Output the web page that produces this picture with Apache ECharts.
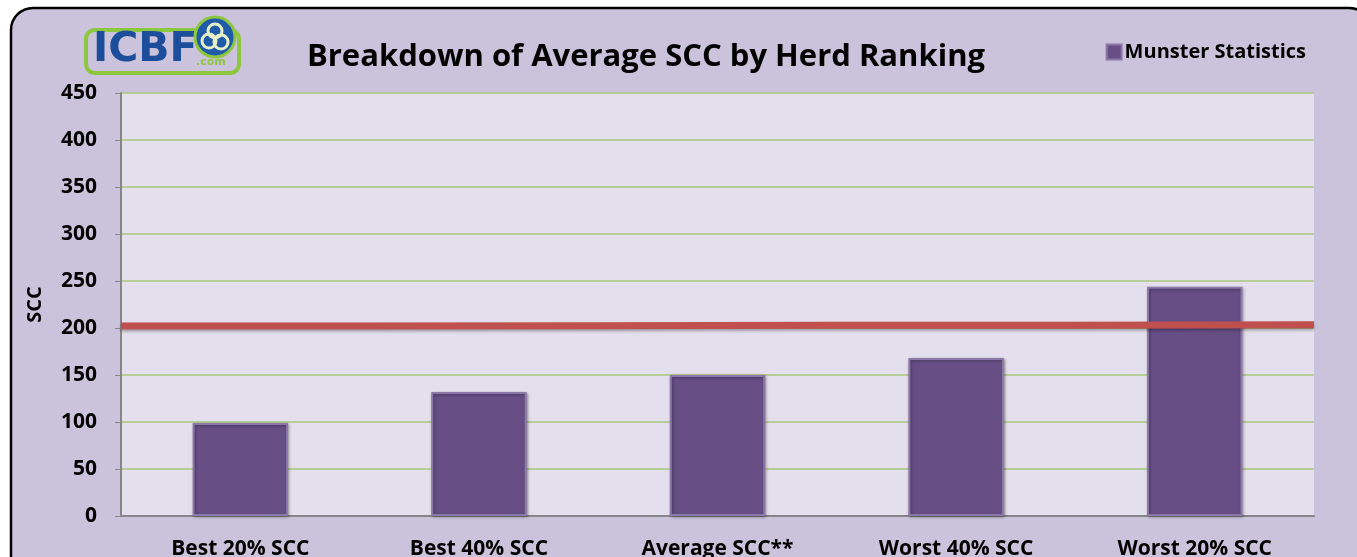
<!DOCTYPE html>
<html><head><meta charset="utf-8">
<script src="https://cdn.jsdelivr.net/npm/echarts@6/dist/echarts.min.js"></script>
<style>html,body{margin:0;padding:0;background:#fff;}#c{width:1357px;height:557px;}</style>
</head><body><div id="c"></div>
<script>
const categories = ['Best 20% SCC','Best 40% SCC','Average SCC**','Worst 40% SCC','Worst 20% SCC'];
const munsterValues = [99, 132, 150, 168, 244];
const thresholdValues = [202, 202.5, 203, 203, 203.5];
const yTicks = [0, 50, 100, 150, 200, 250, 300, 350, 400, 450];

const chart = echarts.init(document.getElementById('c'), null, {renderer: 'canvas'});
const lineData = [];
thresholdValues.forEach((v, i) => { lineData.push([i, v]); lineData.push([i + 1, v]); });
const font = '"Open Sans", "DejaVu Sans", sans-serif';
chart.setOption({
  backgroundColor: '#ffffff',
  animation: false,
  graphic: [
    {type: 'rect', z: -10, shape: {x: 11, y: 8, width: 1360, height: 600, r: 22},
     style: {fill: '#CBC3DB', stroke: '#000', lineWidth: 2.5}},
    {type: 'rect', shape: {x: 86, y: 30, width: 153, height: 43, r: 9},
     style: {fill: 'none', stroke: '#8DC63F', lineWidth: 4}},
    {type: 'text', left: 93, top: 30, style: {text: 'ICBF', font: 'bold 41px "DejaVu Sans", sans-serif', fill: '#1D4E9C'}},
    {type: 'text', left: 196, top: 57, style: {text: '.com', font: 'bold 11px "DejaVu Sans", sans-serif', fill: '#8DC63F'}},
    {type: 'circle', shape: {cx: 215, cy: 37, r: 20}, style: {fill: '#1F5BA8', stroke: '#8DC63F', lineWidth: 3}},
    {type: 'circle', shape: {cx: 209, cy: 41, r: 7}, style: {fill: 'none', stroke: '#E6F0C8', lineWidth: 3}},
    {type: 'circle', shape: {cx: 221, cy: 42, r: 7}, style: {fill: 'none', stroke: '#E6F0C8', lineWidth: 3}},
    {type: 'circle', shape: {cx: 215, cy: 31, r: 7}, style: {fill: 'none', stroke: '#E6F0C8', lineWidth: 3}}
  ],
  title: {
    text: 'Breakdown of Average SCC by Herd Ranking',
    left: 641, top: 37, textAlign: 'center',
    textStyle: {fontFamily: font, fontWeight: 'bold', fontSize: 31, color: '#000'}
  },
  legend: {
    right: 46, top: 37, itemWidth: 15, itemHeight: 15, itemGap: 4,
    data: [{name: 'Munster Statistics', icon: 'rect'}],
    textStyle: {fontFamily: font, fontWeight: 'bold', fontSize: 20, color: '#000', padding: [0, 0, 0, -2]}
  },
  grid: {left: 121, top: 93, right: 43, bottom: 41, show: true, backgroundColor: '#E4DFEC', borderWidth: 0,
    containLabel: false, outerBoundsMode: 'none'},
  xAxis: [
    {type: 'category', data: categories,
     axisLine: {show: true, lineStyle: {color: '#868686', width: 2}},
     axisTick: {show: false},
     axisLabel: {fontFamily: font, fontWeight: 'bold', fontSize: 21, color: '#000', margin: 23},
     splitLine: {show: false}},
    {type: 'value', min: 0, max: 5, show: false}
  ],
  yAxis: {
    type: 'value', min: 0, max: 450, interval: 50,
    name: 'SCC', nameLocation: 'middle', nameGap: 76, nameRotate: 90,
    nameTextStyle: {fontFamily: font, fontWeight: 'bold', fontSize: 20, color: '#000'},
    axisLine: {show: true, lineStyle: {color: '#868686', width: 2}},
    axisTick: {show: true, length: 6, lineStyle: {color: '#868686'}},
    axisLabel: {fontFamily: font, fontWeight: 'bold', fontSize: 21, color: '#000', margin: 24,
      formatter: v => yTicks.includes(v) ? String(v) : ''},
    splitLine: {show: true, lineStyle: {color: '#A9C67A', width: 1.5}}
  },
  series: [
    {name: 'Munster Statistics', type: 'bar', data: munsterValues, barWidth: '40%',
     itemStyle: {color: '#674F86', borderColor: '#8B77A8', borderWidth: 2,
       shadowColor: 'rgba(0,0,0,0.35)', shadowBlur: 3, shadowOffsetX: 1, shadowOffsetY: 1}},
    {name: 'Threshold', type: 'line', xAxisIndex: 1, data: lineData, symbol: 'none',
     lineStyle: {color: '#C0504D', width: 7, shadowColor: 'rgba(0,0,0,0.3)', shadowBlur: 3, shadowOffsetY: 2},
     z: 5}
  ]
});
</script></body></html>
